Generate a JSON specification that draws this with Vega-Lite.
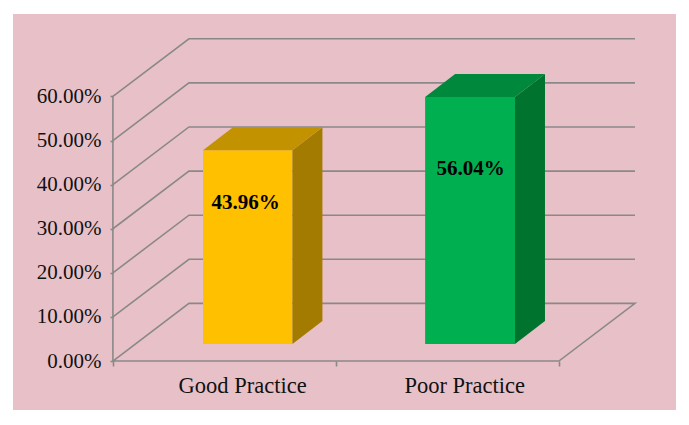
{
  "$schema": "https://vega.github.io/schema/vega-lite/v6.json",
  "width": 663,
  "height": 396,
  "autosize": {"type": "none"},
  "padding": {"left": 13, "top": 14, "right": 13, "bottom": 15},
  "background": "#ffffff",
  "view": {"fill": "#e8c1c8", "stroke": null},
  "config": {"font": "Liberation Serif"},
  "datasets": {
    "bars": [
      {"category": "Good Practice", "value": 0.4396, "left": 0.404, "right": 0.805, "center": 0.604, "part": "Good front"},
      {"category": "Poor Practice", "value": 0.5604, "left": 1.4, "right": 1.803, "center": 1.6, "part": "Poor front"}
    ],
    "faces": [
      {"part": "Good side", "x": 0.805, "y": 0.4396, "y2": 0},
      {"part": "Good side", "x": 0.9395, "y": 0.4916, "y2": 0.052},
      {"part": "Poor side", "x": 1.803, "y": 0.5604, "y2": 0},
      {"part": "Poor side", "x": 1.9375, "y": 0.6124, "y2": 0.052},
      {"part": "Good top", "x": 0.404, "y": 0.4396, "y2": 0.4396},
      {"part": "Good top", "x": 0.5385, "y": 0.4396, "y2": 0.4916},
      {"part": "Good top", "x": 0.805, "y": 0.4396, "y2": 0.4916},
      {"part": "Good top", "x": 0.9395, "y": 0.4916, "y2": 0.4916},
      {"part": "Poor top", "x": 1.4, "y": 0.5604, "y2": 0.5604},
      {"part": "Poor top", "x": 1.5345, "y": 0.5604, "y2": 0.6124},
      {"part": "Poor top", "x": 1.803, "y": 0.5604, "y2": 0.6124},
      {"part": "Poor top", "x": 1.9375, "y": 0.6124, "y2": 0.6124}
    ],
    "frame": [
      {"line": "axis", "o": 0, "x": 0, "y": 0},
      {"line": "axis", "o": 1, "x": 0, "y": 0.6},
      {"line": "floor", "o": 0, "x": 0, "y": 0},
      {"line": "floor", "o": 1, "x": 0.341, "y": 0.1308},
      {"line": "floor", "o": 2, "x": 2.341, "y": 0.1308},
      {"line": "floor", "o": 3, "x": 2, "y": 0},
      {"line": "floor", "o": 4, "x": 0, "y": 0},
      {"line": "10", "o": 0, "x": 0, "y": 0.1},
      {"line": "10", "o": 1, "x": 0.341, "y": 0.2308},
      {"line": "10", "o": 2, "x": 2.341, "y": 0.2308},
      {"line": "20", "o": 0, "x": 0, "y": 0.2},
      {"line": "20", "o": 1, "x": 0.341, "y": 0.3308},
      {"line": "20", "o": 2, "x": 2.341, "y": 0.3308},
      {"line": "30", "o": 0, "x": 0, "y": 0.3},
      {"line": "30", "o": 1, "x": 0.341, "y": 0.4308},
      {"line": "30", "o": 2, "x": 2.341, "y": 0.4308},
      {"line": "40", "o": 0, "x": 0, "y": 0.4},
      {"line": "40", "o": 1, "x": 0.341, "y": 0.5308},
      {"line": "40", "o": 2, "x": 2.341, "y": 0.5308},
      {"line": "50", "o": 0, "x": 0, "y": 0.5},
      {"line": "50", "o": 1, "x": 0.341, "y": 0.6308},
      {"line": "50", "o": 2, "x": 2.341, "y": 0.6308},
      {"line": "60", "o": 0, "x": 0, "y": 0.6},
      {"line": "60", "o": 1, "x": 0.341, "y": 0.7308},
      {"line": "60", "o": 2, "x": 2.341, "y": 0.7308}
    ]
  },
  "resolve": {"scale": {"color": "shared"}},
  "layer": [
    {
      "data": {"name": "frame"},
      "mark": {"type": "line", "color": "#8a8888", "strokeWidth": 1.6, "clip": false},
      "encoding": {
        "x": {
          "field": "x",
          "type": "quantitative",
          "scale": {"domain": [-0.448, 2.525], "nice": false, "zero": false},
          "axis": {
            "title": null,
            "values": [0, 1, 2],
            "labels": false,
            "domain": false,
            "grid": false,
            "ticks": true,
            "tickSize": 5,
            "tickWidth": 1.6,
            "tickColor": "#8a8888",
            "offset": -49
          }
        },
        "y": {
          "field": "y",
          "type": "quantitative",
          "scale": {"domain": [-0.111, 0.787], "nice": false, "zero": false},
          "axis": {
            "title": null,
            "values": [0, 0.1, 0.2, 0.3, 0.4, 0.5, 0.6],
            "format": ".2%",
            "domain": false,
            "grid": false,
            "tickSize": 3,
            "tickWidth": 1.6,
            "tickColor": "#8a8888",
            "labelFont": "Liberation Serif",
            "labelFontSize": 21,
            "labelColor": "#111111",
            "labelPadding": 9,
            "offset": -100
          }
        },
        "detail": {"field": "line"},
        "order": {"field": "o"}
      }
    },
    {
      "data": {"name": "bars"},
      "mark": {"type": "rect", "yOffset": -17, "y2Offset": -17},
      "encoding": {
        "x": {"field": "left", "type": "quantitative"},
        "x2": {"field": "right"},
        "y": {"field": "value", "type": "quantitative"},
        "y2": {"datum": 0},
        "color": {
          "field": "part",
          "type": "nominal",
          "legend": null,
          "scale": {
            "domain": ["Good front", "Good side", "Good top", "Poor front", "Poor side", "Poor top"],
            "range": ["#ffc000", "#a37b00", "#c29200", "#00b050", "#00742f", "#00883c"]
          }
        }
      }
    },
    {
      "data": {"name": "faces"},
      "mark": {"type": "area", "yOffset": -17, "y2Offset": -17, "interpolate": "linear"},
      "encoding": {
        "x": {"field": "x", "type": "quantitative"},
        "y": {"field": "y", "type": "quantitative"},
        "y2": {"field": "y2"},
        "detail": {"field": "part"},
        "color": {"field": "part", "type": "nominal", "legend": null}
      }
    },
    {
      "data": {"name": "bars"},
      "transform": [{"filter": "datum.category === 'Good Practice'"}],
      "mark": {"type": "text", "font": "Liberation Serif", "fontSize": 21, "fontWeight": "bold", "color": "#000000", "dy": 36, "dx": -2},
      "encoding": {
        "x": {"field": "center", "type": "quantitative"},
        "y": {"field": "value", "type": "quantitative"},
        "text": {"field": "value", "type": "quantitative", "format": ".2%"}
      }
    },
    {
      "data": {"name": "bars"},
      "transform": [{"filter": "datum.category === 'Poor Practice'"}],
      "mark": {"type": "text", "font": "Liberation Serif", "fontSize": 21, "fontWeight": "bold", "color": "#000000", "dy": 55, "dx": 1},
      "encoding": {
        "x": {"field": "center", "type": "quantitative"},
        "y": {"field": "value", "type": "quantitative"},
        "text": {"field": "value", "type": "quantitative", "format": ".2%"}
      }
    },
    {
      "data": {"name": "bars"},
      "mark": {"type": "text", "font": "Liberation Serif", "fontSize": 22.5, "color": "#111111", "dy": 25, "dx": -5},
      "encoding": {
        "x": {"field": "center", "type": "quantitative"},
        "y": {"datum": 0},
        "text": {"field": "category", "type": "nominal"}
      }
    }
  ]
}
